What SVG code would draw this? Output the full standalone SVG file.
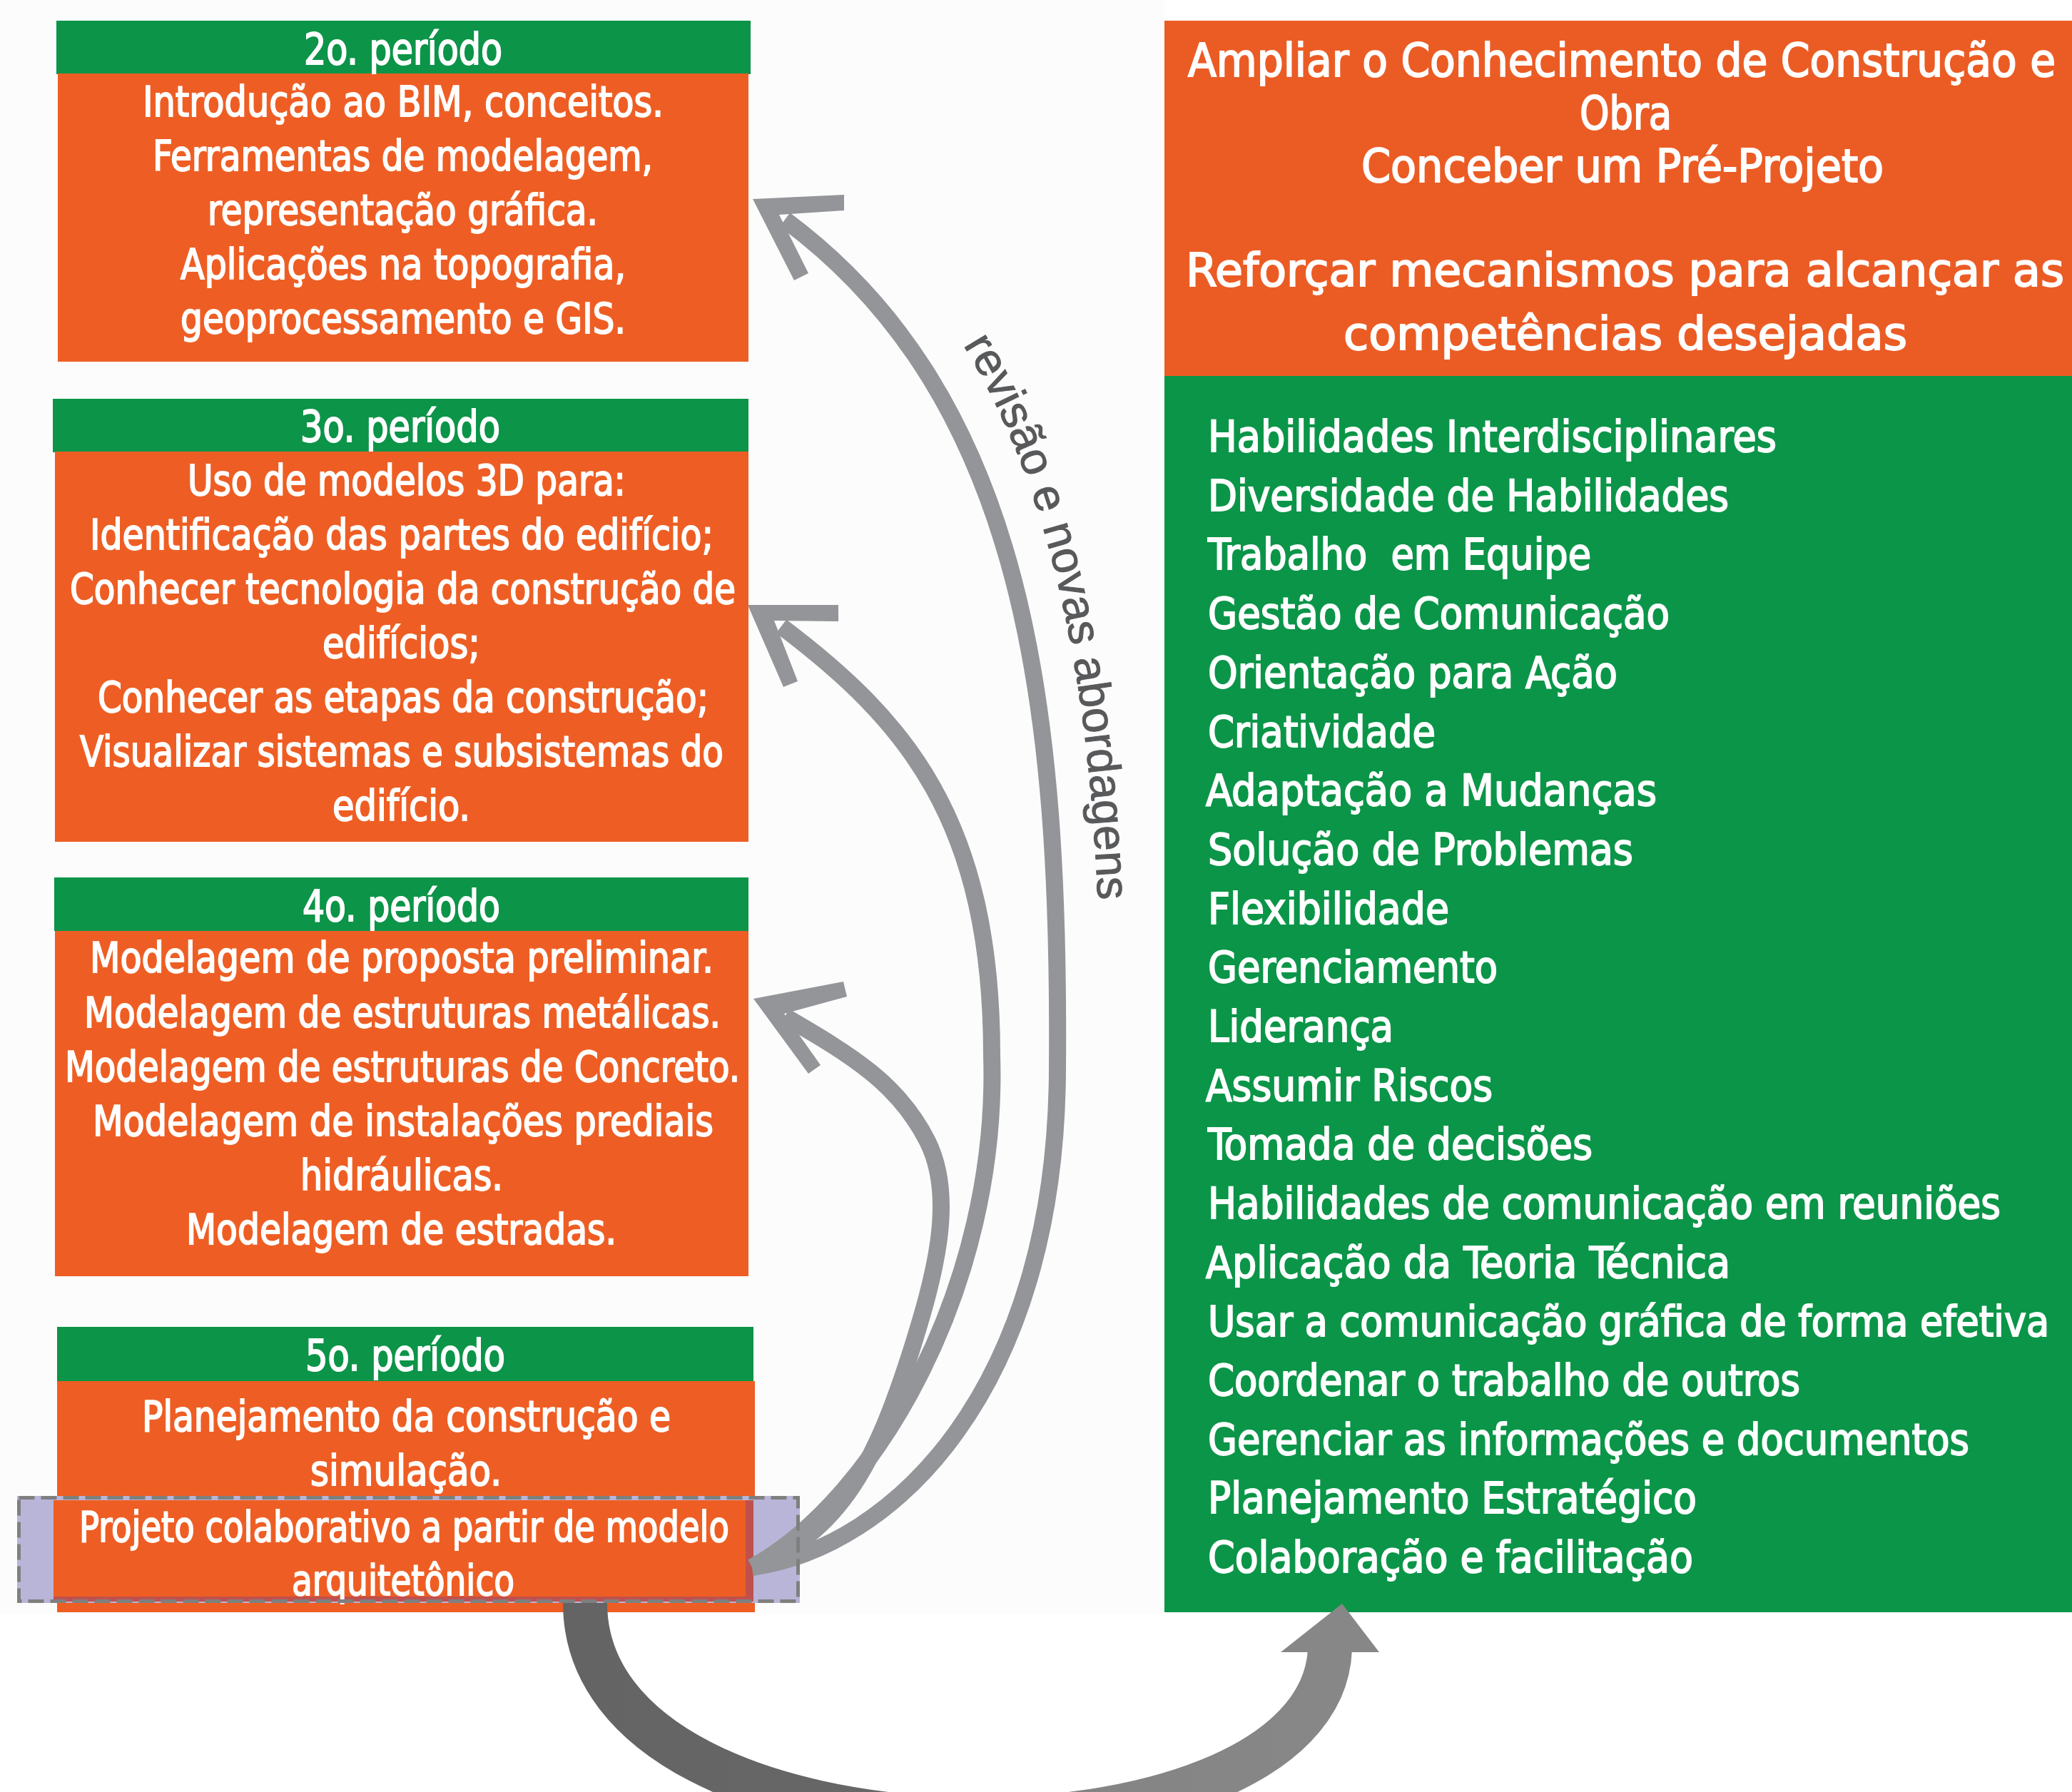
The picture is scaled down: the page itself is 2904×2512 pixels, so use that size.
<svg xmlns="http://www.w3.org/2000/svg" width="2904" height="2512" viewBox="0 0 2904 2512">
<defs>
<style>
.g{fill:#0C9448}
.o{fill:#EE5E24}
.t{font-family:"Liberation Sans Narrow","DejaVu Sans Condensed","Liberation Sans",Arial,sans-serif;fill:#FFFFFF;stroke:#FFFFFF;stroke-width:1.8px}
.h{font-size:60px}
.b{font-size:59px}
.r{font-size:64px}
.l{font-size:61px}
.arr{fill:none;stroke:#939598;stroke-width:24}
.head{fill:#939598}
.lbl{font-family:"Liberation Sans",Arial,sans-serif;font-size:64px;fill:#58595B;stroke:#58595B;stroke-width:1px}
</style>
<linearGradient id="bg" gradientUnits="userSpaceOnUse" x1="800" y1="0" x2="1950" y2="0">
<stop offset="0" stop-color="#646464"/>
<stop offset="0.4" stop-color="#676767"/>
<stop offset="0.62" stop-color="#848484"/>
<stop offset="1" stop-color="#888888"/>
</linearGradient>
<path id="lblpath" d="M 1150 262 C 1487 514, 1547 990, 1542 1500"/>
</defs>

<rect x="0" y="0" width="2904" height="2512" fill="#FFFFFF"/>
<rect x="0" y="0" width="1632" height="2262" fill="#FCFCFC"/>

<g id="p2">
<rect class="g" x="79" y="29" width="973" height="75"/>
<rect class="o" x="81" y="103" width="968" height="404"/>
<text class="t h" x="426" y="90" textLength="278" lengthAdjust="spacingAndGlyphs">2o. período</text>
<text class="t b" x="200" y="163" textLength="730" lengthAdjust="spacingAndGlyphs">Introdução ao BIM, conceitos.</text>
<text class="t b" x="214" y="239" textLength="701" lengthAdjust="spacingAndGlyphs">Ferramentas de modelagem,</text>
<text class="t b" x="291" y="315" textLength="547" lengthAdjust="spacingAndGlyphs">representação gráfica.</text>
<text class="t b" x="253" y="391" textLength="624" lengthAdjust="spacingAndGlyphs">Aplicações na topografia,</text>
<text class="t b" x="253" y="467" textLength="624" lengthAdjust="spacingAndGlyphs">geoprocessamento e GIS.</text>
</g>

<g id="p3">
<rect class="g" x="74" y="559" width="975" height="75"/>
<rect class="o" x="77" y="633" width="972" height="547"/>
<text class="t h" x="421" y="619" textLength="280" lengthAdjust="spacingAndGlyphs">3o. período</text>
<text class="t b" x="263" y="694" textLength="614" lengthAdjust="spacingAndGlyphs">Uso de modelos 3D para:</text>
<text class="t b" x="126" y="770" textLength="874" lengthAdjust="spacingAndGlyphs">Identificação das partes do edifício;</text>
<text class="t b" x="98" y="846" textLength="933" lengthAdjust="spacingAndGlyphs">Conhecer tecnologia da construção de</text>
<text class="t b" x="452" y="922" textLength="221" lengthAdjust="spacingAndGlyphs">edifícios;</text>
<text class="t b" x="137" y="998" textLength="856" lengthAdjust="spacingAndGlyphs">Conhecer as etapas da construção;</text>
<text class="t b" x="112" y="1074" textLength="902" lengthAdjust="spacingAndGlyphs">Visualizar sistemas e subsistemas do</text>
<text class="t b" x="466" y="1150" textLength="193" lengthAdjust="spacingAndGlyphs">edifício.</text>
</g>

<g id="p4">
<rect class="g" x="76" y="1230" width="973" height="75"/>
<rect class="o" x="77" y="1305" width="972" height="484"/>
<text class="t h" x="424" y="1291" textLength="277" lengthAdjust="spacingAndGlyphs">4o. período</text>
<text class="t b" x="126" y="1363" textLength="874" lengthAdjust="spacingAndGlyphs">Modelagem de proposta preliminar.</text>
<text class="t b" x="118" y="1440" textLength="892" lengthAdjust="spacingAndGlyphs">Modelagem de estruturas metálicas.</text>
<text class="t b" x="91" y="1516" textLength="946" lengthAdjust="spacingAndGlyphs">Modelagem de estruturas de Concreto.</text>
<text class="t b" x="130" y="1592" textLength="870" lengthAdjust="spacingAndGlyphs">Modelagem de instalações prediais</text>
<text class="t b" x="421" y="1668" textLength="284" lengthAdjust="spacingAndGlyphs">hidráulicas.</text>
<text class="t b" x="261" y="1744" textLength="603" lengthAdjust="spacingAndGlyphs">Modelagem de estradas.</text>
</g>

<g id="goals">
<rect x="1632" y="29" width="1272" height="498" fill="#EB5C25"/>
<text class="t r" x="1665" y="107" textLength="1216" lengthAdjust="spacingAndGlyphs">Ampliar o Conhecimento de Construção e</text>
<text class="t r" x="2214" y="181" textLength="129" lengthAdjust="spacingAndGlyphs">Obra</text>
<text class="t r" x="1908" y="255" textLength="732" lengthAdjust="spacingAndGlyphs">Conceber um Pré-Projeto</text>
<text class="t r" x="1662" y="401" textLength="1231" lengthAdjust="spacingAndGlyphs">Reforçar mecanismos para alcançar as</text>
<text class="t r" x="1883" y="490" textLength="790" lengthAdjust="spacingAndGlyphs">competências desejadas</text>
</g>

<g id="skills">
<rect x="1632" y="527" width="1272" height="1733" fill="#0B9548"/>
<text class="t l" x="1693" y="633" textLength="797" lengthAdjust="spacingAndGlyphs">Habilidades Interdisciplinares</text>
<text class="t l" x="1693" y="716" textLength="730" lengthAdjust="spacingAndGlyphs">Diversidade de Habilidades</text>
<text class="t l" x="1693" y="798" textLength="537" lengthAdjust="spacingAndGlyphs" xml:space="preserve">Trabalho  em Equipe</text>
<text class="t l" x="1693" y="881" textLength="647" lengthAdjust="spacingAndGlyphs">Gestão de Comunicação</text>
<text class="t l" x="1693" y="964" textLength="574" lengthAdjust="spacingAndGlyphs">Orientação para Ação</text>
<text class="t l" x="1693" y="1047" textLength="319" lengthAdjust="spacingAndGlyphs">Criatividade</text>
<text class="t l" x="1690" y="1129" textLength="632" lengthAdjust="spacingAndGlyphs">Adaptação a Mudanças</text>
<text class="t l" x="1693" y="1212" textLength="596" lengthAdjust="spacingAndGlyphs">Solução de Problemas</text>
<text class="t l" x="1693" y="1295" textLength="338" lengthAdjust="spacingAndGlyphs">Flexibilidade</text>
<text class="t l" x="1693" y="1377" textLength="406" lengthAdjust="spacingAndGlyphs">Gerenciamento</text>
<text class="t l" x="1693" y="1460" textLength="260" lengthAdjust="spacingAndGlyphs">Liderança</text>
<text class="t l" x="1690" y="1543" textLength="402" lengthAdjust="spacingAndGlyphs">Assumir Riscos</text>
<text class="t l" x="1693" y="1625" textLength="539" lengthAdjust="spacingAndGlyphs">Tomada de decisões</text>
<text class="t l" x="1693" y="1708" textLength="1111" lengthAdjust="spacingAndGlyphs">Habilidades de comunicação em reuniões</text>
<text class="t l" x="1690" y="1791" textLength="735" lengthAdjust="spacingAndGlyphs">Aplicação da Teoria Técnica</text>
<text class="t l" x="1693" y="1873" textLength="1179" lengthAdjust="spacingAndGlyphs" style="font-size:58px">Usar a comunicação gráfica de forma efetiva</text>
<text class="t l" x="1693" y="1956" textLength="830" lengthAdjust="spacingAndGlyphs">Coordenar o trabalho de outros</text>
<text class="t l" x="1693" y="2039" textLength="1067" lengthAdjust="spacingAndGlyphs">Gerenciar as informações e documentos</text>
<text class="t l" x="1693" y="2121" textLength="685" lengthAdjust="spacingAndGlyphs">Planejamento Estratégico</text>
<text class="t l" x="1693" y="2204" textLength="680" lengthAdjust="spacingAndGlyphs">Colaboração e facilitação</text>
</g>

<g id="p5">
<rect class="g" x="80" y="1860" width="976" height="76"/>
<rect class="o" x="80" y="1936" width="978" height="324"/>
<text class="t h" x="428" y="1921" textLength="280" lengthAdjust="spacingAndGlyphs">5o. período</text>
<text class="t b" x="199" y="2006" textLength="741" lengthAdjust="spacingAndGlyphs">Planejamento da construção e</text>
<text class="t b" x="435" y="2082" textLength="268" lengthAdjust="spacingAndGlyphs">simulação.</text>
<rect x="24" y="2097" width="1097" height="150" fill="#B8B5D9"/>
<rect x="75" y="2103" width="981" height="142" fill="#C0504D"/>
<rect class="o" x="75" y="2103" width="970" height="135"/>
<text class="t b" x="111" y="2161" textLength="911" lengthAdjust="spacingAndGlyphs">Projeto colaborativo a partir de modelo</text>
<text class="t b" x="409" y="2236" textLength="312" lengthAdjust="spacingAndGlyphs">arquitetônico</text>
</g>

<g id="connectors">
<path class="arr" d="M 1054 2197 C 1250 2170, 1480 1950, 1482 1500 C 1486 1000, 1440 560, 1100 308"/>
<polygon class="head" points="1055,279 1183,273 1183,295 1092,301 1133,383 1113,393"/>
<path class="arr" d="M 1054 2197 C 1230 2100, 1400 1800, 1390 1480 C 1390 1150, 1270 1010, 1095 878"/>
<polygon class="head" points="1048,848 1175,848 1175,871 1085,870 1118,955 1098,963"/>
<path class="arr" d="M 1054 2197 C 1180 2150, 1230 2040, 1275 1900 C 1310 1790, 1340 1680, 1300 1600 C 1260 1520, 1195 1480, 1100 1425"/>
<polygon class="head" points="1056,1400 1182,1376 1187,1397 1099,1421 1150,1493 1133,1505"/>
<text class="lbl"><textPath href="#lblpath" startOffset="300" textLength="810" lengthAdjust="spacingAndGlyphs">revisão e novas abordagens</textPath></text>
<path d="M 820 2247 C 820 2640, 1850 2640, 1864 2312" fill="none" stroke="url(#bg)" stroke-width="62"/>
<polygon points="1795,2316 1933,2316 1881,2248" fill="#878787"/>
</g>

<g id="p5-focus">
<rect x="26.5" y="2099.5" width="1092" height="145" fill="none" stroke="#7F7F7F" stroke-width="5" stroke-dasharray="22 9"/>
</g>
</svg>
